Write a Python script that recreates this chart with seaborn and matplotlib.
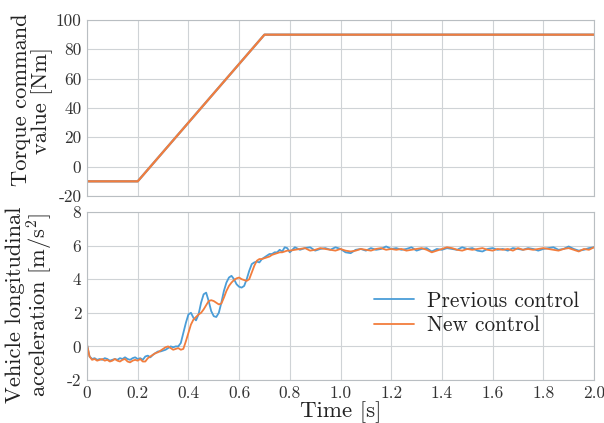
import numpy as np
import pandas as pd
import matplotlib
matplotlib.use("Agg")
import matplotlib.pyplot as plt
import seaborn as sns

# ---- data ----
torque_t = [0.0, 0.2, 0.7, 2.0]
torque_prev = [-10, -10, 90, 90]
torque_new = [-10, -10, 90, 90]

t_fine = [round(0.01 * i, 2) for i in range(81)]
acc_prev_fine = [0.1, -0.6, -0.75, -0.7, -0.8, -0.75, -0.8, -0.7, -0.75, -0.85,
                 -0.8, -0.75, -0.8, -0.7, -0.75, -0.65, -0.75, -0.8, -0.7, -0.65,
                 -0.75, -0.7, -0.8, -0.6, -0.55, -0.65, -0.5, -0.4, -0.3, -0.3,
                 -0.25, -0.2, -0.1, 0.0, -0.05, 0.0, 0.0, 0.2, 0.8, 1.4,
                 1.9, 2.0, 1.7, 1.55, 1.9, 2.6, 3.1, 3.2, 2.7, 2.1,
                 1.8, 1.75, 2.0, 2.6, 3.3, 3.8, 4.1, 4.2, 4.0, 3.7,
                 3.55, 3.5, 3.6, 4.0, 4.5, 4.9, 5.0, 5.05, 5.0, 5.2,
                 5.3, 5.4, 5.5, 5.5, 5.6, 5.6, 5.75, 5.65, 5.9, 5.85, 5.6]
acc_new_fine = [0.1, -0.6, -0.8, -0.75, -0.85, -0.8, -0.75, -0.85, -0.8, -0.9,
                -0.85, -0.75, -0.85, -0.9, -0.8, -0.75, -0.9, -0.95, -0.85, -0.8,
                -0.85, -0.75, -0.9, -0.9, -0.7, -0.6, -0.5, -0.4, -0.35, -0.25,
                -0.15, -0.05, 0.0, -0.1, -0.2, -0.15, -0.1, -0.2, -0.15, 0.3,
                0.8, 1.3, 1.6, 1.75, 1.9, 2.0, 2.2, 2.45, 2.7, 2.75,
                2.7, 2.6, 2.5, 2.55, 2.9, 3.3, 3.6, 3.8, 3.95, 4.05,
                4.1, 4.0, 3.95, 3.9, 4.0, 4.4, 4.8, 5.1, 5.2, 5.2,
                5.25, 5.3, 5.35, 5.45, 5.5, 5.55, 5.6, 5.6, 5.65, 5.7, 5.7]

t_coarse = [round(0.82 + 0.02 * i, 2) for i in range(60)]
acc_prev_coarse = [5.9, 5.75, 5.85, 5.9, 5.7, 5.8, 5.85, 5.75, 5.9, 5.8,
                   5.6, 5.55, 5.75, 5.8, 5.7, 5.85, 5.75, 5.8, 5.95, 5.8,
                   5.85, 5.75, 5.8, 5.9, 5.7, 5.8, 5.85, 5.65, 5.8, 5.75,
                   5.85, 5.8, 5.75, 5.9, 5.8, 5.85, 5.7, 5.65, 5.8, 5.85,
                   5.75, 5.8, 5.7, 5.85, 5.8, 5.75, 5.85, 5.8, 5.7, 5.8,
                   5.85, 5.9, 5.75, 5.8, 5.95, 5.8, 5.7, 5.75, 5.85, 5.9]
acc_new_coarse = [5.75, 5.8, 5.85, 5.7, 5.75, 5.85, 5.8, 5.75, 5.7, 5.8,
                  5.7, 5.65, 5.7, 5.8, 5.75, 5.7, 5.8, 5.85, 5.75, 5.8,
                  5.75, 5.8, 5.7, 5.75, 5.8, 5.85, 5.75, 5.6, 5.7, 5.8,
                  5.9, 5.85, 5.75, 5.7, 5.8, 5.75, 5.8, 5.85, 5.75, 5.7,
                  5.8, 5.75, 5.8, 5.7, 5.85, 5.75, 5.8, 5.75, 5.8, 5.85,
                  5.8, 5.75, 5.7, 5.8, 5.85, 5.75, 5.65, 5.8, 5.75, 5.9]

acc_t = t_fine + t_coarse
acc_prev = acc_prev_fine + acc_prev_coarse
acc_new = acc_new_fine + acc_new_coarse

x_ticklabels = ["0", "0.2", "0.4", "0.6", "0.8", "1.0", "1.2", "1.4",
                "1.6", "1.8", "2.0"]
labels = ["Previous control", "New control"]
colors = {"Previous control": "#4a9dd8", "New control": "#f27d3d"}

# ---- style ----
sns.set_style("whitegrid", {"grid.color": "#cfd3d6", "axes.edgecolor": "#b9bec2"})
plt.rcParams["font.family"] = ["cmr10", "DejaVu Serif"]
plt.rcParams["mathtext.fontset"] = "cm"
plt.rcParams["axes.unicode_minus"] = False

df_top = pd.DataFrame({
    "t": torque_t * 2,
    "v": torque_prev + torque_new,
    "s": [labels[0]] * len(torque_t) + [labels[1]] * len(torque_t),
})
df_bot = pd.DataFrame({
    "t": acc_t * 2,
    "v": acc_prev + acc_new,
    "s": [labels[0]] * len(acc_t) + [labels[1]] * len(acc_t),
})

fig = plt.figure(figsize=(6.04, 4.23), dpi=100)
W, H = 604.0, 423.0
L, R = 87 / W, 594 / W
ax1 = fig.add_axes([L, 1 - 196 / H, R - L, 176 / H])
ax2 = fig.add_axes([L, 1 - 380 / H, R - L, 168 / H])

sns.lineplot(data=df_top, x="t", y="v", hue="s", palette=colors, ax=ax1,
             linewidth=1.6, legend=False)
sns.lineplot(data=df_bot, x="t", y="v", hue="s", palette=colors, ax=ax2,
             linewidth=1.3)

for ax in (ax1, ax2):
    ax.set_xlim(0, 2.0)
    ax.set_xticks(np.arange(0, 2.01, 0.2))
    ax.tick_params(length=0, labelsize=12.5, colors="#333333", pad=4)
    for sp in ax.spines.values():
        sp.set_color("#b9bec2")

ax1.set_ylim(-20, 100)
ax1.set_yticks(range(-20, 101, 20))
ax1.set_xticklabels([])
ax1.set_xlabel("")
ax1.set_ylabel("Torque command\nvalue [Nm]", fontsize=16.2, color="#222222",
               linespacing=1.0)
ax1.yaxis.set_label_coords(-0.067, 0.545)

ax2.set_ylim(-2, 8)
ax2.set_yticks(range(-2, 9, 2))
ax2.set_xticklabels(x_ticklabels)
ax2.set_xlabel("Time [s]", fontsize=16.5, color="#222222")
ax2.xaxis.set_label_coords(0.5, -0.125)
ax2.set_ylabel("Vehicle longitudinal\nacceleration [m/s$^2$]", fontsize=16.2,
               color="#222222", linespacing=1.0)
ax2.yaxis.set_label_coords(-0.063, 0.449)

leg = ax2.legend(loc="lower right", bbox_to_anchor=(0.988, 0.215), frameon=False,
                 fontsize=15.3, handlelength=1.9, handletextpad=0.6,
                 labelspacing=0.25, borderaxespad=0)
for t in leg.get_texts():
    t.set_color("#222222")

fig.savefig("out.png", dpi=100)
